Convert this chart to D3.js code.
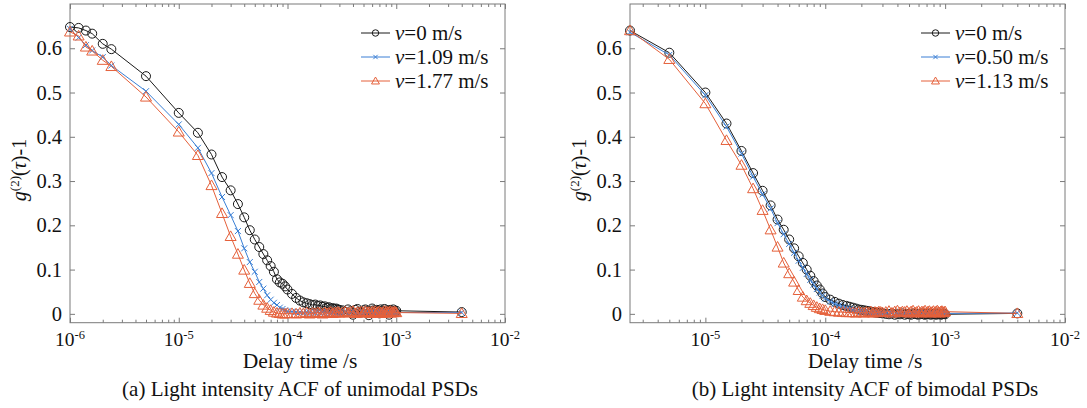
<!DOCTYPE html>
<html>
<head>
<meta charset="utf-8">
<script src="https://d3js.org/d3.v7.min.js"></script>
<style>
  body { margin: 0; background: #fff; }
  svg { font-family: "Liberation Serif", "Times New Roman", serif; }
</style>
</head>
<body>
<svg id="chart" width="1087" height="408"></svg>
<script>

// delay times in microseconds
timesA = [1, 1.2, 1.4, 1.6, 2, 2.4, 5,
  10, 15, 20, 25, 30, 35, 40, 45, 50, 55, 60, 65, 70, 75, 80, 85, 90, 95, 100,
  110, 120, 130, 140, 150, 160, 170, 180, 190, 200, 210, 220, 230, 240, 250, 260, 270, 280, 290, 300,
  320, 340, 360, 380, 400, 420, 440, 460, 480, 500, 520, 540, 560, 580, 600, 620, 640, 660, 680, 700,
  720, 740, 760, 780, 800, 820, 840, 860, 880, 900, 920, 940, 960, 980, 1000,
  4000]

timesB = [2.35, 5,
  10, 15, 20, 25, 30, 35, 40, 45, 50, 55, 60, 65, 70, 75, 80, 85, 90, 95, 100,
  110, 120, 130, 140, 150, 160, 170, 180, 190, 200, 210, 220, 230, 240, 250, 260, 270, 280, 290, 300,
  320, 340, 360, 380, 400, 420, 440, 460, 480, 500, 520, 540, 560, 580, 600, 620, 640, 660, 680, 700,
  720, 740, 760, 780, 800, 820, 840, 860, 880, 900, 920, 940, 960, 980, 1000,
  4000]

// (a) unimodal
a_v0 = [0.648, 0.646, 0.640, 0.633, 0.610, 0.598, 0.537,
  0.454, 0.409, 0.360, 0.309, 0.279, 0.248, 0.218, 0.189, 0.168, 0.151, 0.135, 0.121, 0.108, 0.095, 0.078, 0.071, 0.068, 0.062, 0.055,
  0.045, 0.036, 0.030, 0.026, 0.024,  0.022, 0.020, 0.021, 0.018, 0.019,  0.016, 0.017, 0.014, 0.015, 0.012,  0.013, 0.011, 0.012, 0.010, 0.009,
  0.008, 0.004, 0.010, 0.006, -0.002,  0.009, 0.011, 0.005, 0.003, 0.008,  0.010, 0.006, -0.003, 0.007, 0.012,  0.008, 0.004, 0.009, 0.006, 0.001,
  0.010, 0.007, 0.005, 0.011, 0.004,  0.008, 0.006, -0.002, 0.009, 0.007,  0.005, 0.010, 0.006, 0.004, 0.007,
  0.004]

a_v1 = [0.644, 0.624, 0.607, 0.595, 0.580, 0.561, 0.503,
  0.428, 0.375, 0.318, 0.264, 0.223, 0.187, 0.148, 0.117, 0.095, 0.072, 0.057, 0.042, 0.032, 0.025, 0.020, 0.014, 0.011, 0.008, 0.006,
  0.005, 0.004, 0.004, 0.003, 0.004,  0.003, 0.002, 0.003, 0.004, 0.002,  0.003, 0.002, 0.004, 0.003, 0.002,  0.003, 0.004, 0.002, 0.003, 0.003,
  0.002, 0.004, 0.001, 0.003, 0.005,  0.002, 0.003, 0.001, 0.004, 0.002,  0.003, 0.005, 0.001, 0.002, 0.004,  0.003, 0.001, 0.003, 0.004, 0.002,
  0.005, 0.001, 0.003, 0.002, 0.004,  0.003, 0.001, 0.002, 0.004, 0.003,  0.005, 0.002, 0.003, 0.001, 0.003,
  0.003]

a_v2 = [0.637, 0.628, 0.603, 0.594, 0.573, 0.559, 0.490,
  0.411, 0.358, 0.290, 0.227, 0.175, 0.135, 0.099, 0.069, 0.046, 0.031, 0.020, 0.013, 0.008, 0.004, 0.002, 0.001, 0.000, 0.000, 0.001,
  0.001, 0.000, 0.002, 0.001, 0.003,  0.000, 0.002, 0.001, 0.003, 0.002,  0.000, 0.003, 0.001, 0.002, 0.004,  0.001, 0.003, 0.002, 0.004, 0.002,
  0.003, 0.005, 0.002, 0.004, 0.006,  0.001, 0.004, 0.003, 0.005, 0.002,  0.006, 0.003, 0.004, 0.001, 0.005,  0.003, 0.006, 0.002, 0.004, 0.005,
  0.003, 0.001, 0.004, 0.006, 0.002,  0.005, 0.003, 0.004, 0.006, 0.002,  0.004, 0.003, 0.005, 0.004, 0.003,
  0.001]

// (b) bimodal
b_v0 = [0.640, 0.590,
  0.500, 0.430, 0.368, 0.318, 0.278, 0.245, 0.213, 0.190, 0.168, 0.148, 0.130, 0.115, 0.100, 0.086, 0.074, 0.064, 0.055, 0.046, 0.038,
  0.032, 0.027, 0.023, 0.020, 0.018,  0.016, 0.014, 0.012, 0.010, 0.009,  0.008, 0.007, 0.006, 0.005, 0.004,  0.003, 0.003, 0.002, 0.002, 0.001,
  0.000, -0.001, 0.001, -0.002, 0.000,  -0.001, 0.001, -0.002, 0.000, -0.001,  -0.002, 0.001, 0.000, -0.001, -0.002,  0.000, 0.001, -0.001, -0.002, 0.000,
  -0.001, 0.001, -0.002, 0.000, -0.001,  0.000, -0.002, 0.001, -0.001, 0.000,  -0.002, -0.001, 0.001, 0.000, -0.001,
  0.001]

b_v1 = [0.636, 0.585,
  0.494, 0.423, 0.362, 0.310, 0.270, 0.238, 0.205, 0.180, 0.158, 0.138, 0.120, 0.104, 0.090, 0.077, 0.066, 0.056, 0.048, 0.041, 0.035,
  0.028, 0.023, 0.019, 0.016, 0.013,  0.011, 0.009, 0.008, 0.006, 0.005,  0.004, 0.004, 0.003, 0.002, 0.002,  0.001, 0.001, 0.001, 0.000, 0.000,
  0.001, 0.000, 0.002, -0.001, 0.001,  0.003, 0.000, 0.001, 0.002, -0.001,  0.001, 0.000, 0.002, 0.001, -0.001,  0.002, 0.000, 0.001, 0.003, 0.000,
  0.001, -0.001, 0.002, 0.001, 0.000,  0.002, 0.001, -0.001, 0.001, 0.002,  0.000, 0.001, 0.002, 0.000, 0.001,
  0.002]

b_v2 = [0.640, 0.575,
  0.475, 0.392, 0.336, 0.283, 0.234, 0.190, 0.151, 0.115, 0.091, 0.072, 0.053, 0.038, 0.030, 0.024, 0.019, 0.015, 0.012, 0.010, 0.008,
  0.006, 0.005, 0.004, 0.004, 0.003,  0.003, 0.003, 0.002, 0.004, 0.003,  0.002, 0.004, 0.003, 0.005, 0.002,  0.004, 0.003, 0.005, 0.004, 0.003,
  0.004, 0.006, 0.002, 0.005, 0.007,  0.003, 0.005, 0.004, 0.006, 0.002,  0.005, 0.007, 0.003, 0.004, 0.006,  0.002, 0.005, 0.004, 0.007, 0.003,
  0.005, 0.006, 0.002, 0.004, 0.006,  0.003, 0.005, 0.007, 0.004, 0.002,  0.005, 0.006, 0.003, 0.004, 0.005,
  0.001]

legendA = ['0 m/s', '1.09 m/s', '1.77 m/s']
legendB = ['0 m/s', '0.50 m/s', '1.13 m/s']
yTicks = [0, 0.1, 0.2, 0.3, 0.4, 0.5, 0.6]
decades = [-6, -5, -4, -3, -2]

colors = ['#1a1a1a', '#3a7fd5', '#e5603a']
markers = ['circle', 'cross', 'triangle']
axisColor = '#7a7a7a'

plotTop = 4       // (window.top is read-only, so not "top")
plotBottom = 322.7

svg = d3.select('#chart')
svg.append('rect').attr('width', 1087).attr('height', 408).attr('fill', '#fff')

// draws one marker shape into a selection of groups
function addMarker(sel, type, s, color) {
  if (type === 'circle') {
    sel.append('circle').attr('r', 4.5 * s)
      .attr('fill', 'none').attr('stroke', color).attr('stroke-width', 1)
  } else if (type === 'cross') {
    const c = 3 * s
    sel.append('path').attr('d', `M${-c},${-c}L${c},${c}M${-c},${c}L${c},${-c}`)
      .attr('fill', 'none').attr('stroke', color).attr('stroke-width', 1)
  } else {
    const c = 5.5 * s
    sel.append('path').attr('d', `M0,${-c}L${c},${c * 0.75}L${-c},${c * 0.75}Z`)
      .attr('fill', 'none').attr('stroke', color).attr('stroke-width', 1)
  }
}

function drawPanel(cfg) {
  const g = svg.append('g')
  const x = d3.scaleLog().domain(cfg.domain).range([cfg.x0, cfg.x1])
  const y = d3.scaleLinear().domain([-0.02, 0.7]).range([plotBottom, plotTop])

  // log ticks: decades + minor 2..9
  const major = decades.map(e => Math.pow(10, e)).filter(v => v >= cfg.domain[0] * 0.999 && v <= cfg.domain[1] * 1.001)
  const minor = []
  decades.forEach(e => {
    for (let k = 2; k <= 9; k++) {
      const v = k * Math.pow(10, e)
      if (v > cfg.domain[0] && v < cfg.domain[1]) minor.push(v)
    }
  })

  const styleAxis = s => {
    s.select('.domain').remove()
    s.selectAll('line').attr('stroke', axisColor)
  }

  g.append('g').attr('transform', `translate(0,${plotBottom})`)
    .call(d3.axisBottom(x).tickValues(major).tickSize(-5).tickFormat('')).call(styleAxis)
  g.append('g').attr('transform', `translate(0,${plotBottom})`)
    .call(d3.axisBottom(x).tickValues(minor).tickSize(-3).tickFormat('')).call(styleAxis)
  g.append('g').attr('transform', `translate(0,${plotTop})`)
    .call(d3.axisTop(x).tickValues(major).tickSize(-5).tickFormat('')).call(styleAxis)
  g.append('g').attr('transform', `translate(0,${plotTop})`)
    .call(d3.axisTop(x).tickValues(minor).tickSize(-3).tickFormat('')).call(styleAxis)

  const yl = g.append('g').attr('transform', `translate(${cfg.x0},0)`)
    .call(d3.axisLeft(y).tickValues(yTicks).tickSize(-5).tickPadding(8)
      .tickFormat(d => d === 0 ? '0' : d3.format('.1f')(d)))
    .call(styleAxis)
  yl.selectAll('text').attr('fill', '#111').style('font-size', '20.5px')
    .style('font-family', '"Liberation Serif", serif')

  g.append('g').attr('transform', `translate(${cfg.x1},0)`)
    .call(d3.axisRight(y).tickValues(yTicks).tickSize(-5).tickFormat('')).call(styleAxis)

  // frame
  g.append('rect')
    .attr('x', cfg.x0).attr('y', plotTop)
    .attr('width', cfg.x1 - cfg.x0).attr('height', plotBottom - plotTop)
    .attr('fill', 'none').attr('stroke', axisColor).attr('stroke-width', 1)

  // x tick labels 10^n
  const xl = g.selectAll('text.xt')
    .data(major)
    .join('text')
      .attr('class', 'xt')
      .attr('x', d => x(d))
      .attr('y', 346)
      .attr('text-anchor', 'middle')
      .attr('fill', '#111')
      .style('font-size', '19.5px')
  xl.append('tspan').text('10')
  xl.append('tspan').attr('dy', -7).style('font-size', '12.5px')
    .text(d => Math.round(Math.log10(d)))

  // series
  const line = d3.line().x(d => x(d[0])).y(d => y(d[1]))
  cfg.series.forEach((vals, i) => {
    const pts = cfg.times.map((t, j) => [t * 1e-6, vals[j]]).filter(d => d[1] != null)
    g.append('path').datum(pts)
      .attr('d', line).attr('fill', 'none')
      .attr('stroke', colors[i]).attr('stroke-width', 1)
    const m = g.append('g').selectAll('g')
      .data(pts)
      .join('g')
        .attr('transform', d => `translate(${x(d[0])},${y(d[1])})`)
    addMarker(m, markers[i], 1, colors[i])
  })

  // legend
  cfg.legend.forEach((lab, i) => {
    const ly = 33 + 24 * i
    g.append('line')
      .attr('x1', cfg.x1 - 144).attr('x2', cfg.x1 - 115)
      .attr('y1', ly).attr('y2', ly)
      .attr('stroke', colors[i]).attr('stroke-width', 1)
    const mk = g.append('g').attr('transform', `translate(${cfg.x1 - 129.5},${ly})`)
    addMarker(mk, markers[i], 0.72, colors[i])
    const t = g.append('text')
      .attr('x', cfg.x1 - 110).attr('y', ly + 7)
      .attr('fill', '#111').style('font-size', '21px')
    t.append('tspan').style('font-style', 'italic').text('v')
    t.append('tspan').text('=' + lab)
  })

  // y label
  const yt = g.append('text')
    .attr('transform', `translate(${cfg.yLabelX},170) rotate(-90)`)
    .attr('text-anchor', 'middle')
    .attr('fill', '#111').style('font-size', '20px')
  yt.append('tspan').style('font-style', 'italic').text('g')
  yt.append('tspan').attr('dy', -7).style('font-size', '13px').text('(2)')
  yt.append('tspan').attr('dy', 7).text('(')
  yt.append('tspan').style('font-style', 'italic').text('τ')
  yt.append('tspan').text(')-1')

  // x title and caption
  g.append('text')
    .attr('x', cfg.titleX).attr('y', 368)
    .attr('text-anchor', 'middle')
    .attr('fill', '#111').style('font-size', '21.5px')
    .text('Delay time /s')
  g.append('text')
    .attr('x', cfg.titleX).attr('y', 396)
    .attr('text-anchor', 'middle')
    .attr('fill', '#111').style('font-size', '21px')
    .text(cfg.caption)
}

drawPanel({
  x0: 70, x1: 505, domain: [1e-6, 1e-2],
  times: timesA, series: [a_v0, a_v1, a_v2], legend: legendA,
  yLabelX: 26, titleX: 300,
  caption: '(a) Light intensity ACF of unimodal PSDs'
})

drawPanel({
  x0: 630, x1: 1065, domain: [2.35e-6, 1e-2],
  times: timesB, series: [b_v0, b_v1, b_v2], legend: legendB,
  yLabelX: 586, titleX: 865,
  caption: '(b) Light intensity ACF of bimodal PSDs'
})

</script>
</body>
</html>
